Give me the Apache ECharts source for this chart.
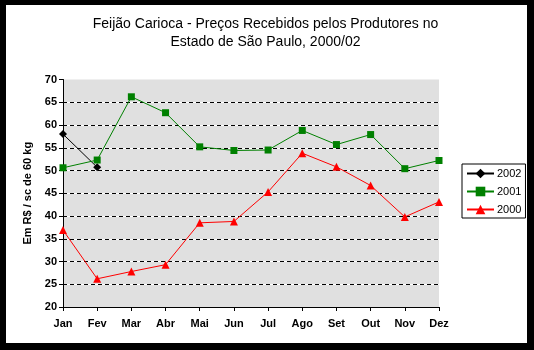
<!DOCTYPE html>
<html><head><meta charset="utf-8">
<script src="https://cdn.jsdelivr.net/npm/echarts@6/dist/echarts.min.js"></script>
<style>html,body{margin:0;padding:0;background:#000;}#c{width:534px;height:350px;}</style>
</head><body><div id="c"></div>
<script>
var months = ['Jan','Fev','Mar','Abr','Mai','Jun','Jul','Ago','Set','Out','Nov','Dez'];
var s2002 = [58.0, 50.7, null, null, null, null, null, null, null, null, null, null];
var s2001 = [50.6, 52.3, 66.2, 62.7, 55.2, 54.4, 54.5, 58.8, 55.7, 57.9, 50.4, 52.2];
var s2000 = [36.9, 26.2, 27.8, 29.3, 38.5, 38.8, 45.3, 53.8, 50.8, 46.7, 39.8, 43.1];
var titleText = 'Feijão Carioca - Preços Recebidos pelos Produtores no\nEstado de São Paulo, 2000/02';
var yName = 'Em R$ / sc de 60 kg';

var chart = echarts.init(document.getElementById('c'), null, {renderer:'canvas'});
var font = 'Arial, "Liberation Sans", sans-serif';
var dashColors = [];
for (var i = 0; i < 10; i++) dashColors.push('#000');
dashColors.push('rgba(0,0,0,0)');
var whiteColors = [];
for (var j = 0; j < 10; j++) whiteColors.push('#fff');
whiteColors.push('rgba(0,0,0,0)');

chart.setOption({
  backgroundColor: '#000',
  animation: false,
  graphic: [{type:'rect', z:-100, silent:true, shape:{x:6, y:5, width:521, height:338}, style:{fill:'#fff'}}],
  title: {
    text: titleText, left: 260.5, top: 10, textAlign: 'center',
    textStyle: {fontFamily: font, fontSize: 14, fontWeight: 'normal', color: '#000', lineHeight: 18}
  },
  grid: {left: 63, top: 79.5, right: 95, bottom: 43, show: true, backgroundColor: '#e0e0e0', borderWidth: 0},
  legend: {
    orient: 'vertical', left: 462, top: 164,
    data: ['2002','2001','2000'],
    backgroundColor: '#fff', borderColor: '#000', borderWidth: 1,
    padding: [4, 4, 3, 4], itemGap: 7, itemWidth: 27, itemHeight: 12,
    textStyle: {fontFamily: font, fontSize: 11, color: '#000', padding: [0,0,0,-2]}
  },
  xAxis: {
    type: 'category', data: months, boundaryGap: false,
    axisLine: {lineStyle: {color: '#000', width: 1}},
    axisTick: {show: true, length: 4, lineStyle: {color: '#000'}, alignWithLabel: true},
    axisLabel: {fontFamily: font, fontSize: 11, fontWeight: 'bold', color: '#000', margin: 11},
    splitLine: {show: false}
  },
  yAxis: [{
    type: 'value', min: 20, max: 70, interval: 5,
    name: yName, nameLocation: 'middle', nameGap: 25, nameRotate: 90,
    nameTextStyle: {fontFamily: font, fontSize: 11, fontWeight: 'bold', color: '#000'},
    axisLine: {show: true, lineStyle: {color: '#000', width: 1}},
    axisTick: {show: true, length: 4, inside: false, lineStyle: {color: '#000'}},
    axisLabel: {fontFamily: font, fontSize: 11, fontWeight: 'bold', color: '#000', margin: 6},
    splitLine: {show: true, lineStyle: {color: whiteColors, width: 1, type: 'solid'}}
  }, {
    type: 'value', min: 20, max: 70, interval: 5, position: 'left',
    axisLine: {show: false}, axisTick: {show: false}, axisLabel: {show: false},
    splitLine: {show: true, lineStyle: {color: dashColors, width: 1, type: [4, 3]}}
  }],
  series: [{
    name: '2002', type: 'line', data: s2002, yAxisIndex: 0,
    symbol: 'diamond', symbolSize: 8, connectNulls: false,
    itemStyle: {color: '#000'}, lineStyle: {color: '#000', width: 1}
  }, {
    name: '2001', type: 'line', data: s2001, yAxisIndex: 0,
    symbol: 'rect', symbolSize: 7,
    itemStyle: {color: '#008000'}, lineStyle: {color: '#008000', width: 1}
  }, {
    name: '2000', type: 'line', data: s2000, yAxisIndex: 0,
    symbol: 'triangle', symbolSize: 8,
    itemStyle: {color: '#ff0000'}, lineStyle: {color: '#ff0000', width: 1}
  }]
});
</script></body></html>
